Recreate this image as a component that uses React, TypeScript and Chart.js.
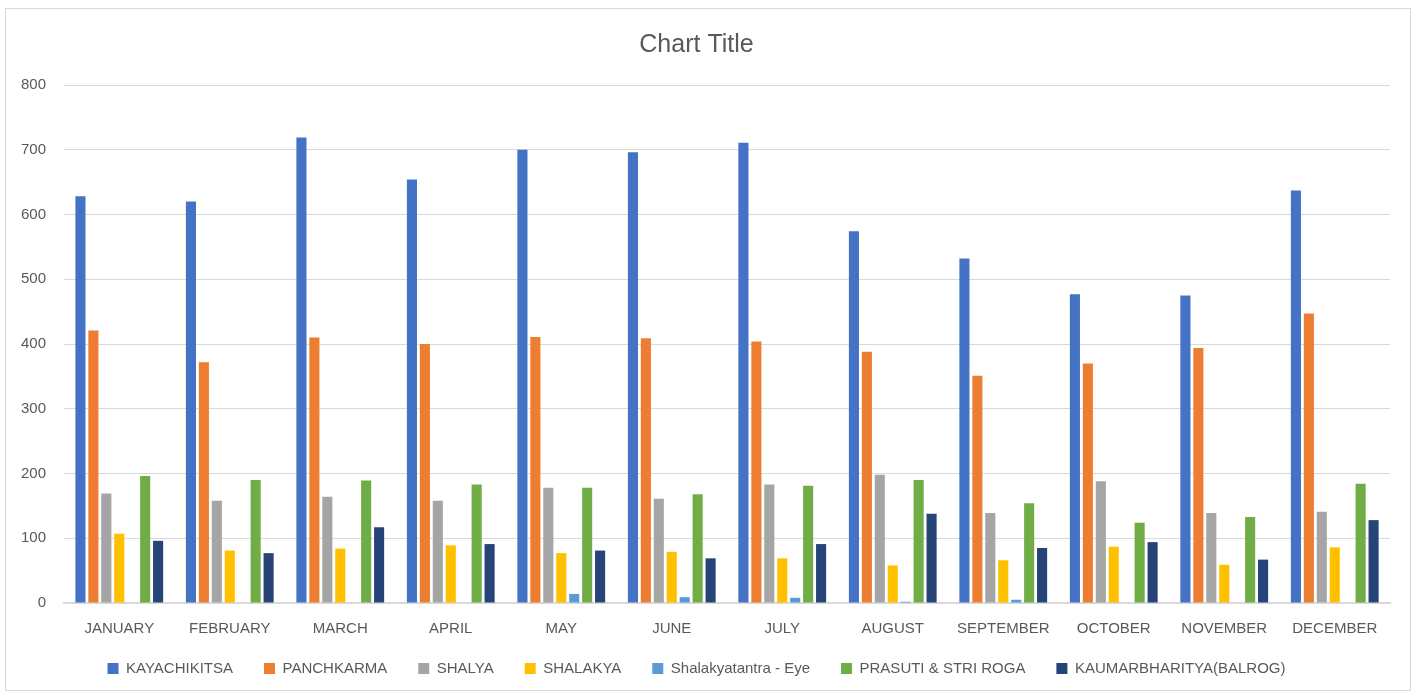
import React, { useEffect, useRef } from "react";
import { Chart, registerables } from "chart.js";
Chart.register(...registerables);

const months = ["JANUARY", "FEBRUARY", "MARCH", "APRIL", "MAY", "JUNE", "JULY", "AUGUST", "SEPTEMBER", "OCTOBER", "NOVEMBER", "DECEMBER"];
const kayachikitsa = [628, 620, 719, 654, 700, 696, 711, 574, 532, 477, 475, 637];
const panchkarma = [421, 372, 410, 400, 411, 409, 404, 388, 351, 370, 394, 447];
const shalya = [169, 158, 164, 158, 178, 161, 183, 198, 139, 188, 139, 141];
const shalakya = [107, 81, 84, 89, 77, 79, 69, 58, 66, 87, 59, 86];
const shalakyatantraEye = [0, 0, 0, 0, 14, 9, 8, 2, 5, 0, 0, 0];
const prasuti = [196, 190, 189, 183, 178, 168, 181, 190, 154, 124, 133, 184];
const kaumarbharitya = [96, 77, 117, 91, 81, 69, 91, 138, 85, 94, 67, 128];
const yTicks = [0, 100, 200, 300, 400, 500, 600, 700, 800];

const seriesNames = ["KAYACHIKITSA", "PANCHKARMA", "SHALYA", "SHALAKYA", "Shalakyatantra - Eye", "PRASUTI & STRI ROGA", "KAUMARBHARITYA(BALROG)"];
const seriesData = [kayachikitsa, panchkarma, shalya, shalakya, shalakyatantraEye, prasuti, kaumarbharitya];
const colors = ["#4472C4", "#ED7D31", "#A5A5A5", "#FFC000", "#5B9BD5", "#70AD47", "#264478"];

export default function App() {
  const ref = useRef<HTMLCanvasElement>(null);
  useEffect(() => {
    document.body.style.margin = "0";
    const font = "'Liberation Sans', Arial, sans-serif";
    const chart = new Chart(ref.current!, {
      type: "bar",
      data: {
        labels: months,
        datasets: seriesNames.map((n, i) => ({
          label: n,
          data: seriesData[i],
          backgroundColor: colors[i],
          borderWidth: 0,
          categoryPercentage: 0.82,
          barPercentage: 0.78,
        })),
      },
      options: {
        animation: false,
        responsive: true,
        maintainAspectRatio: false,
        layout: { padding: { left: -3, right: 20, top: 12, bottom: 4 } },
        plugins: {
          title: {
            display: true,
            text: "Chart Title",
            color: "#595959",
            font: { family: font, size: 25, weight: "normal" },
            padding: { top: 9, bottom: 25 },
          },
          legend: {
            position: "bottom",
            labels: {
              color: "#595959",
              font: { family: font, size: 15 },
              boxWidth: 11,
              boxHeight: 11,
              padding: 31,
            },
          },
          tooltip: { enabled: false },
        },
        scales: {
          x: {
            grid: { display: false, drawTicks: false },
            border: { color: "#d9d9d9", width: 2 },
            ticks: { color: "#595959", font: { family: font, size: 15 }, padding: 17, maxRotation: 0 },
            afterFit: (s: any) => { s.height -= 25; },
            afterUpdate: (s: any) => { s._computeLabelArea = () => undefined; },
          },
          y: {
            min: 0,
            max: 800,
            afterBuildTicks: (s: any) => { s.ticks = yTicks.map((v) => ({ value: v })); },
            grid: { color: "#d9d9d9", drawTicks: false },
            border: { display: false },
            ticks: { color: "#595959", font: { family: font, size: 15 }, padding: 18 },
          },
        },
      },
    });
    return () => chart.destroy();
  }, []);
  return (
    <div style={{ position: "absolute", left: 5, top: 8, width: 1404, height: 681, border: "1px solid #d9d9d9", background: "#fff" }}>
      <canvas ref={ref} />
    </div>
  );
}
